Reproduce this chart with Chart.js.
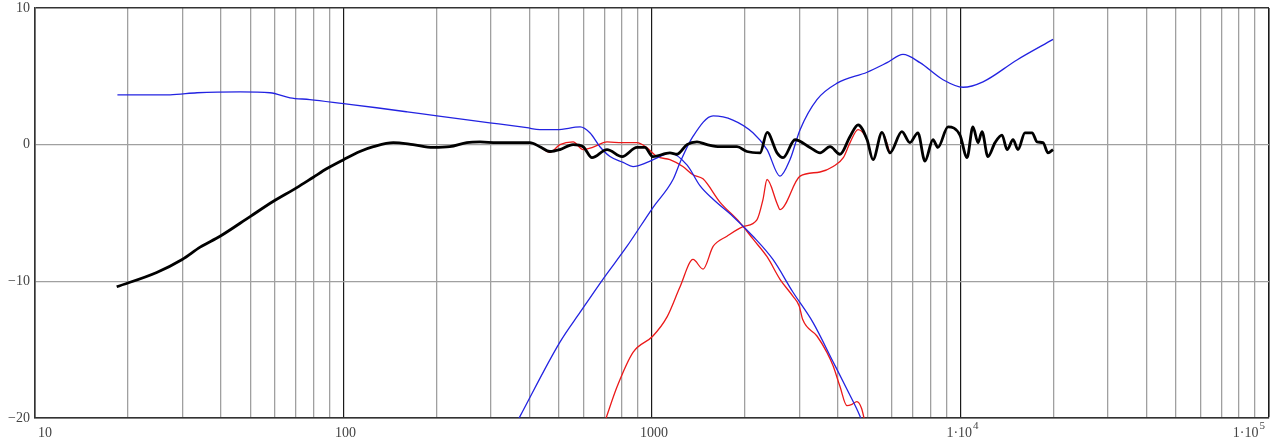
<!DOCTYPE html>
<html lang="en">
<head>
<meta charset="UTF-8">
<title>Frequency response</title>
<style>
  body{margin:0;background:#fff}
  #chart{display:block}
</style>
</head>
<body>
<canvas id="chart" width="1273" height="441"></canvas>

<script src="https://cdn.jsdelivr.net/npm/chart.js@4.4.0"></script>
<script>
/* ---------- Axis data ---------- */
const decades      = [10, 100, 1000, 10000, 100000];
const decadeLabels = ['10', '100', '1000', '1\u00b710', '1\u00b710'];
const decadeExp    = ['', '', '', '4', '5'];
const dbTicks      = [-20, -10, 0, 10];

/* ---------- Series (Hz / dB) ---------- */
// summed response (thick black)
const sumHz = [18.4, 24.8, 30.0, 34.3, 39.8, 49.8, 59.1, 70.6, 79.6, 88.4, 100, 113, 125, 145, 168, 195, 221, 251, 277, 314,
  365, 402, 433, 467, 503, 555, 598, 639, 715, 800, 894, 948, 1006, 1143, 1205, 1298, 1399, 1508, 1660, 1886,
  2032, 2240, 2362, 2543, 2660, 2908, 3250, 3505, 3777, 4068, 4385, 4656, 4980, 5205, 5567, 5904, 6457, 6855,
  7276, 7670, 8143, 8450, 9110, 9960, 10500, 10970, 11400, 11740, 12270, 12940, 13630, 14160, 14800, 15360,
  16180, 17060, 17710, 18510, 19220, 19950];
const sumDb = [-10.4, -9.35, -8.4, -7.5, -6.7, -5.26, -4.16, -3.14, -2.4, -1.75, -1.1, -0.5, -0.15, 0.15, 0.0, -0.2, -0.15, 0.15, 0.2, 0.15,
  0.15, 0.15, -0.15, -0.5, -0.36, 0.0, -0.15, -0.95, -0.36, -0.87, -0.2, -0.2, -0.87, -0.6, -0.7, 0.0, 0.2, 0.0, -0.15, -0.15,
  -0.5, -0.6, 0.9, -0.6, -0.95, 0.36, -0.2, -0.6, -0.15, -0.7, 0.6, 1.45, 0.36, -1.1, 0.9, -0.6, 0.95, 0.15,
  0.87, -1.2, 0.36, -0.2, 1.3, 0.7, -0.95, 1.3, 0.15, 0.95, -0.87, 0.15, 0.7, -0.36, 0.36, -0.36,
  0.87, 0.87, 0.2, 0.15, -0.6, -0.36];

// woofer model (blue, low pass)
const wooferModelHz = [18.5, 27.4, 33.5, 46.2, 57.8, 67.1, 77.8, 100, 128, 161, 201, 298, 393, 433, 492, 585, 630, 678, 731,
  806, 868, 964, 1062, 1143, 1300, 1430, 1578, 1830, 2124, 2466, 2865, 3324, 3866, 4285, 4720, 4800];
const wooferModelDb = [3.65, 3.65, 3.8, 3.87, 3.8, 3.43, 3.3, 3.0, 2.7, 2.4, 2.1, 1.6, 1.24, 1.1, 1.1, 1.3, 0.85, -0.15, -0.87,
  -1.3, -1.6, -1.3, -0.87, -0.6, -1.5, -3.0, -4.0, -5.25, -6.7, -8.4, -10.8, -13.0, -15.9, -17.9, -19.85, -20.3];

// tweeter model (blue, high pass)
const tweeterModelHz = [365, 373, 503, 585, 693, 829, 1007, 1170, 1233, 1358, 1578, 1829, 2124, 2360, 2600, 2800, 3020, 3425,
  3981, 4980, 5780, 6510, 7390, 8780, 10190, 11830, 15240, 19950];
const tweeterModelDb = [-20.3, -19.9, -14.45, -12.26, -9.85, -7.45, -4.6, -2.55, -1.3, 0.6, 2.1, 1.8, 0.87, -0.36, -2.3, -1.1, 1.1, 3.3,
  4.5, 5.3, 6.0, 6.6, 6.0, 4.75, 4.2, 4.6, 6.2, 7.7];

// woofer measured (red)
const wooferMeasHz = [365, 402, 433, 467, 503, 555, 598, 642, 715, 800, 894, 960, 1038, 1143, 1259, 1357, 1463, 1660, 1928,
  2124, 2360, 2600, 2865, 3000, 3080, 3425, 3690, 3866, 4068, 4285, 4450, 4615, 4780, 4900];
const wooferMeasDb = [0.15, 0.15, -0.15, -0.55, 0.0, 0.2, -0.36, -0.2, 0.2, 0.15, 0.15, -0.2, -0.87, -1.1, -1.6, -2.2, -2.5, -4.2, -5.7,
  -6.9, -8.2, -9.85, -11.1, -11.8, -12.8, -14.0, -15.2, -16.2, -17.7, -19.1, -19.0, -18.8, -19.3, -20.3];

// tweeter measured (red)
const tweeterMeasHz = [705, 771, 868, 1007, 1119, 1233, 1358, 1464, 1578, 1750, 1973, 2188, 2290, 2360, 2543, 2600, 3020, 3505,
  3866, 4170, 4385, 4656, 4980, 5205, 5567, 5904];
const tweeterMeasDb = [-20.2, -17.7, -15.2, -14.0, -12.6, -10.4, -8.4, -9.1, -7.45, -6.7, -6.0, -5.5, -4.0, -2.55, -4.3, -4.75, -2.3, -2.0,
  -1.6, -0.95, 0.15, 1.1, 0.36, -1.1, 0.9, -0.6];

/* ---------- Helpers ---------- */
const pts = (hz, db) => hz.map((f, i) => ({x: f, y: db[i]}));
const isDecade = v => decades.some(d => Math.abs(d - v) < 1e-6);

const BLUE = 'rgb(35,35,225)', RED = 'rgb(235,25,25)';
const FONT = '"Liberation Serif", "DejaVu Serif", serif';

function line(hz, db, color, width){
  return {data: pts(hz, db), borderColor: color, borderWidth: width, showLine: true,
          pointRadius: 0, cubicInterpolationMode: 'monotone', fill: false};
}

/* ---------- x labels with superscripts ---------- */
const xLabelPlugin = {
  id: 'xLabels',
  afterDraw(chart){
    const ctx = chart.ctx, xs = chart.scales.x, y = chart.chartArea.bottom + 19;
    ctx.save();
    ctx.fillStyle = '#444';
    ctx.textBaseline = 'alphabetic';
    decades.forEach((v, i) => {
      const px = xs.getPixelForValue(v);
      ctx.font = '14px ' + FONT;
      const wBase = ctx.measureText(decadeLabels[i]).width;
      ctx.font = '11px ' + FONT;
      const wExp = decadeExp[i] ? ctx.measureText(decadeExp[i]).width + 1 : 0;
      const w = wBase + wExp;
      let left;
      if (i === 0) left = px + 3;
      else if (i === decades.length - 1) left = px - 4 - w;
      else left = px - w / 2 + 2;
      ctx.textAlign = 'left';
      ctx.font = '14px ' + FONT;
      ctx.fillText(decadeLabels[i], left, y);
      if (decadeExp[i]) {
        ctx.font = '11px ' + FONT;
        ctx.fillText(decadeExp[i], left + wBase + 1, y - 8);
      }
    });
    ctx.restore();
  }
};

/* ---------- Chart ---------- */
new Chart(document.getElementById('chart'), {
  type: 'scatter',
  data: {
    datasets: [
      line(sumHz, sumDb, '#000', 2.8),
      line(wooferModelHz, wooferModelDb, BLUE, 1.3),
      line(tweeterModelHz, tweeterModelDb, BLUE, 1.3),
      line(wooferMeasHz, wooferMeasDb, RED, 1.3),
      line(tweeterMeasHz, tweeterMeasDb, RED, 1.3)
    ]
  },
  options: {
    responsive: false,
    devicePixelRatio: 1,
    animation: false,
    layout: {padding: {left: 0, right: 4, top: 8, bottom: 0}},
    plugins: {legend: {display: false}, tooltip: {enabled: false}},
    scales: {
      x: {
        type: 'logarithmic', min: 10, max: 100000,
        afterBuildTicks(s){
          const t = [];
          decades.forEach((d, i) => {
            t.push({value: d});
            if (i < decades.length - 1) for (let m = 2; m <= 9; m++) t.push({value: d * m});
          });
          s.ticks = t;
        },
        afterFit(s){ s.height = 23; s.paddingLeft = 0; s.paddingRight = 0; },
        ticks: {display: false},
        grid: {
          drawTicks: false,
          color: c => isDecade(c.tick.value) ? '#1a1a1a' : 'rgb(160,160,160)',
          lineWidth: c => c.tick.value === 100000 ? 1.6 : (isDecade(c.tick.value) ? 1.2 : 1.3)
        },
        border: {display: true, color: '#333', width: 1.6}
      },
      y: {
        min: -20, max: 10,
        afterBuildTicks(s){ s.ticks = dbTicks.map(v => ({value: v})); },
        afterFit(s){ s.width = 35; s.paddingTop = 0; s.paddingBottom = 0; },
        ticks: {
          color: '#444', padding: 5,
          font: {family: FONT, size: 14},
          callback: v => (v < 0 ? '\u2212' + Math.abs(v) : String(v))
        },
        grid: {
          drawTicks: false,
          color: c => (c.tick.value === 10 || c.tick.value === -20) ? '#333' : 'rgb(160,160,160)',
          lineWidth: c => (c.tick.value === 10 ? 1.6 : 1.3)
        },
        border: {display: true, color: '#333', width: 1.6}
      }
    }
  },
  plugins: [xLabelPlugin]
});
</script>
</body>
</html>
